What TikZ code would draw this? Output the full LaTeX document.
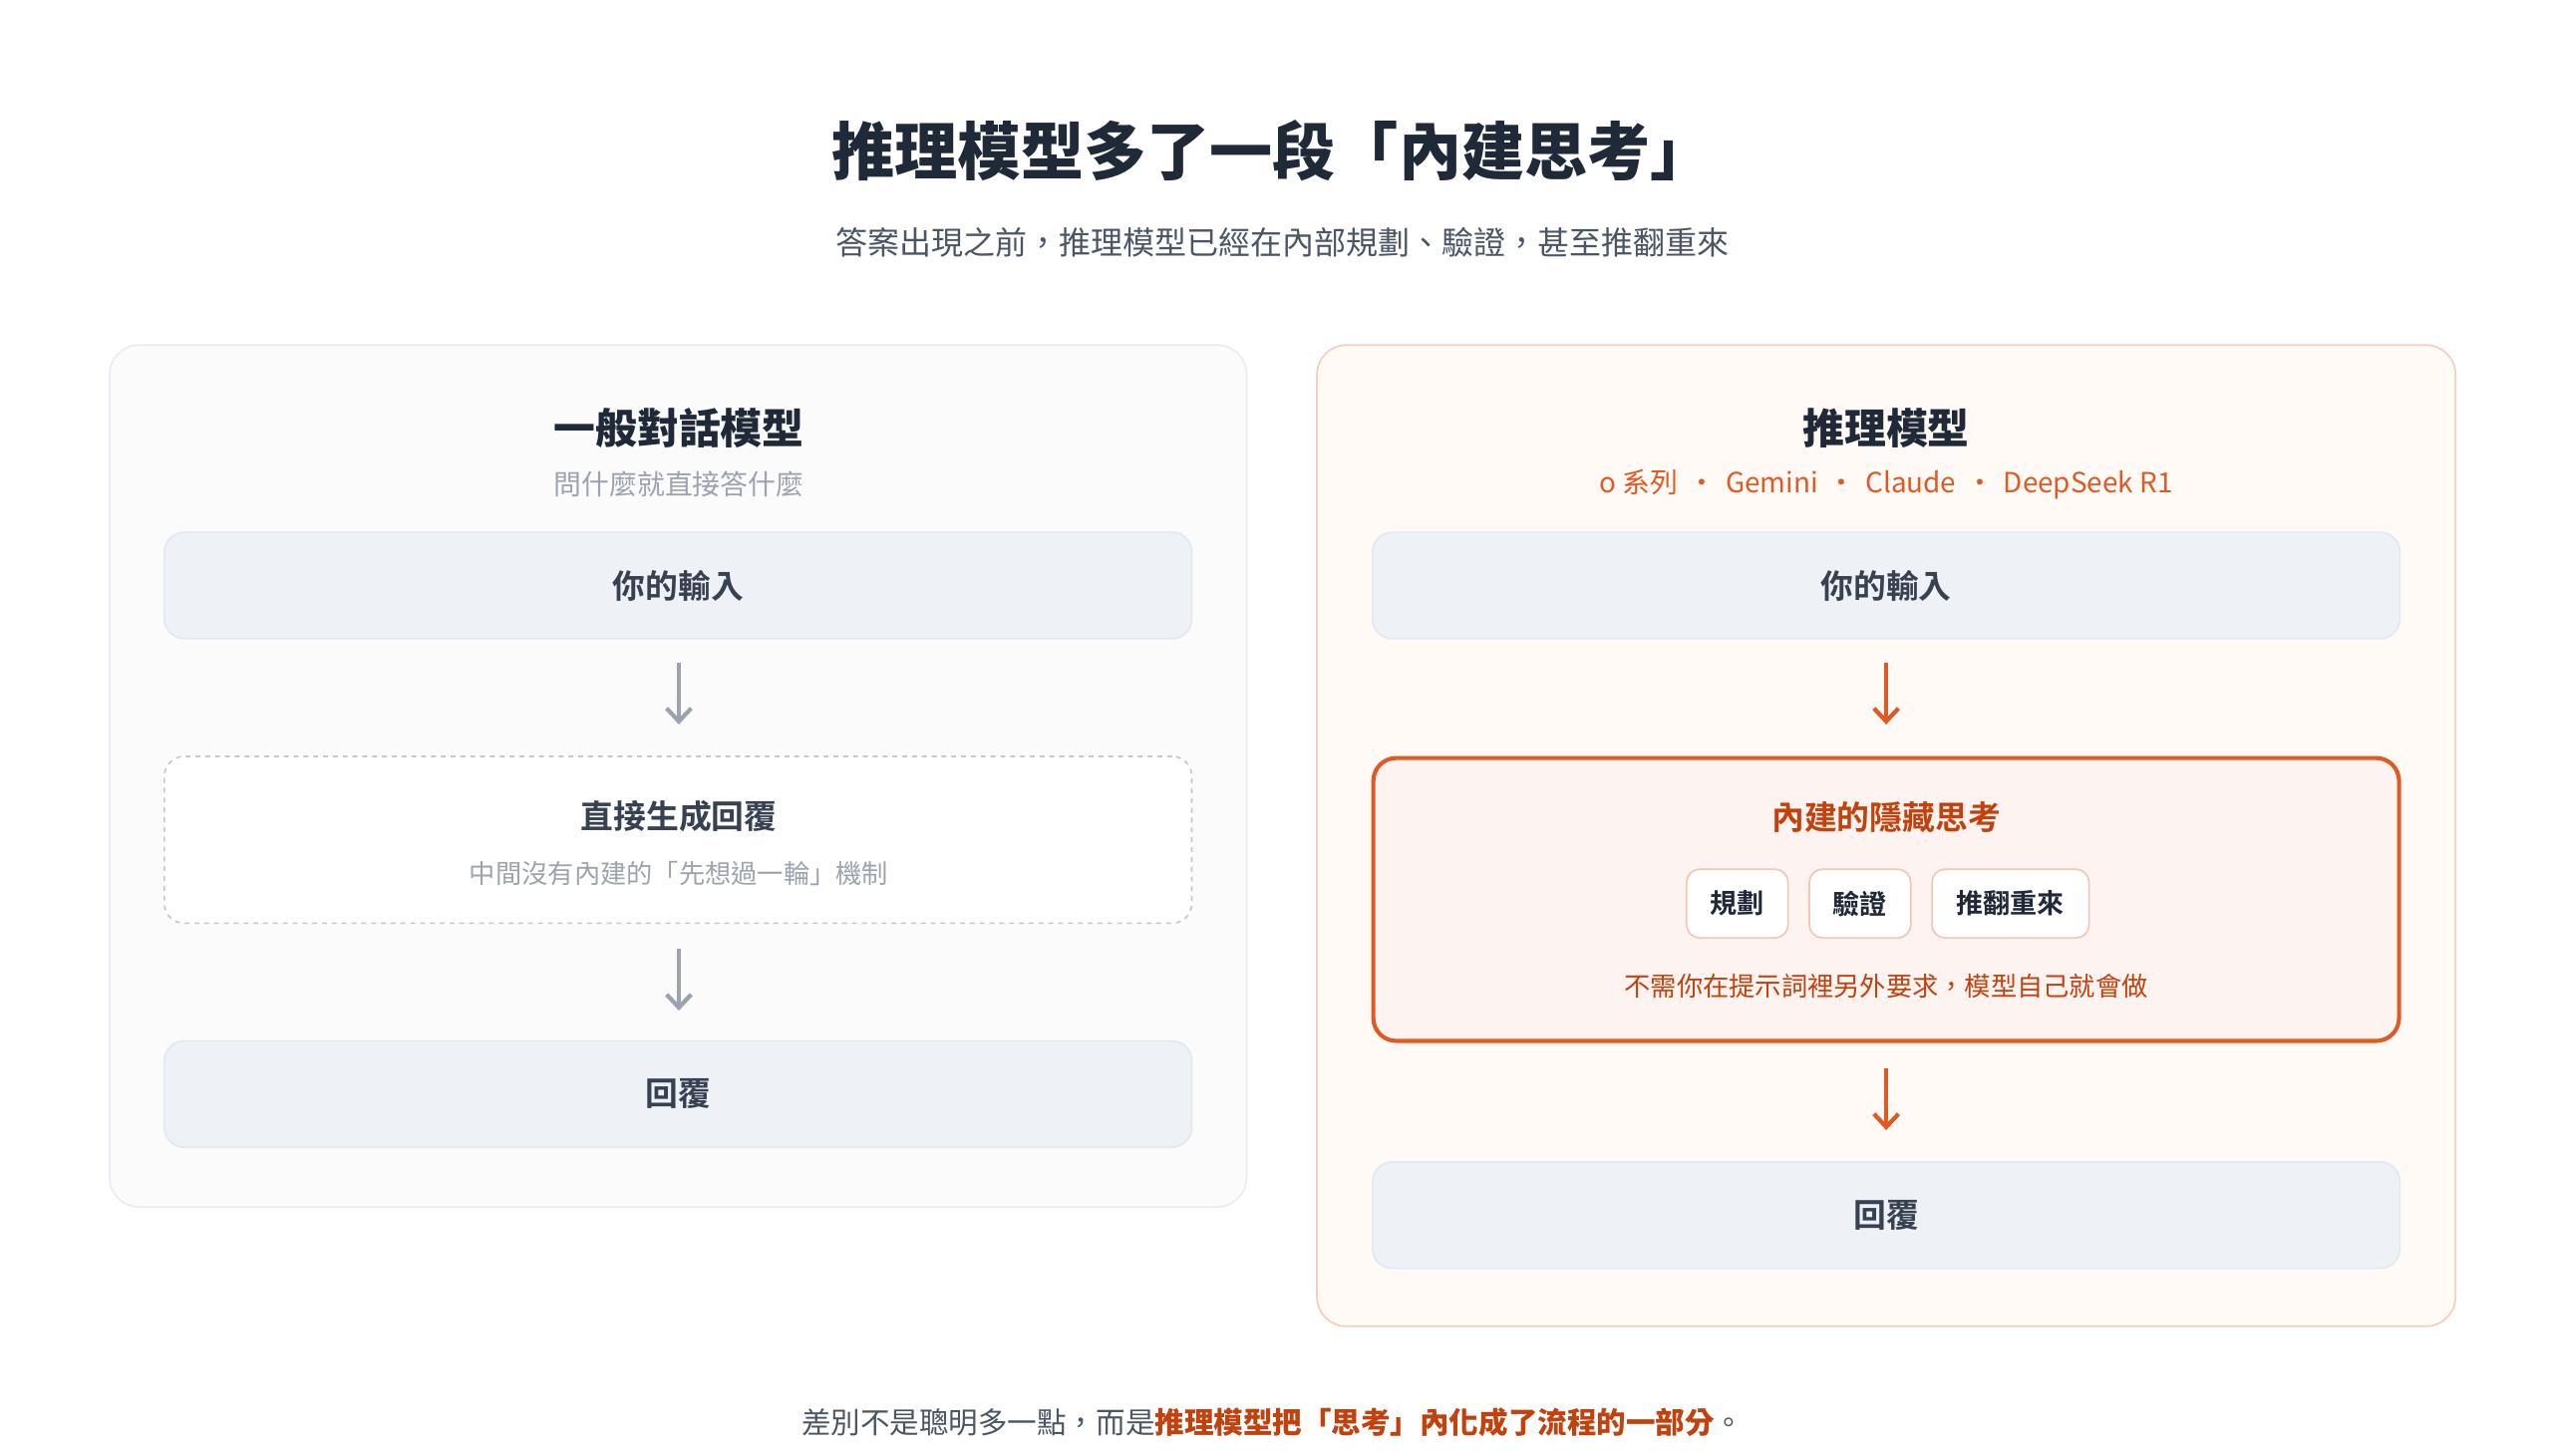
\documentclass[tikz,border=0pt]{standalone}
\usepackage{fontspec}
\setmainfont{Noto Sans CJK TC}[BoldFont={* Bold}]
\newfontfamily\heavy{Noto Sans CJK TC Black}
\usetikzlibrary{arrows.meta}
\definecolor{ink}{HTML}{1F2937}
\definecolor{txt}{HTML}{374151}
\definecolor{sub}{HTML}{4B5563}
\definecolor{mute}{HTML}{9CA3AF}
\definecolor{org}{HTML}{E05A24}
\definecolor{orgd}{HTML}{C2410C}
\definecolor{boxf}{HTML}{EEF2F6}
\definecolor{boxd}{HTML}{E2E8F0}
\tikzset{
  panel/.style={draw, line width=1pt, rounded corners=18pt},
  stepbox/.style={draw=boxd, fill=boxf, line width=1pt, rounded corners=12pt, minimum width=628pt, minimum height=65pt, font=\bfseries\fontsize{20}{24}\selectfont, text=txt},
  chip/.style={draw=org!35, fill=white, line width=1pt, rounded corners=8pt, minimum height=42pt, inner xsep=12pt, font=\bfseries\fontsize{16.5}{20}\selectfont, text=ink},
  garr/.style={draw=mute, line width=2.6pt, -{Straight Barb[length=8pt,width=15pt]}},
  oarr/.style={draw=org, line width=2.6pt, -{Straight Barb[length=8pt,width=15pt]}},
}
\begin{document}
\begin{tikzpicture}[x=1pt,y=-1pt]
\useasboundingbox[fill=white] (0,0) rectangle (1560,890);
\node (title) at (778,92) {\heavy\fontsize{38.5}{44}\selectfont\color{ink}推理模型多了一段「內建思考」};
\node (subt) at (784,148) {\fontsize{19.5}{23}\selectfont\color{sub}答案出現之前，推理模型已經在內部規劃、驗證，甚至推翻重來};
% left panel
\draw[panel, draw=boxd!80, fill=black!1.5] (67,211) rectangle (762,738);
\node (lt) at (415,262) {\heavy\fontsize{25.5}{30}\selectfont\color{ink}一般對話模型};
\node (ls) at (415,296) {\fontsize{17}{20}\selectfont\color{mute}問什麼就直接答什麼};
\node[stepbox] (l1) at (414.5,358) {你的輸入};
\node[draw=black!22, dashed, fill=white, line width=1pt, rounded corners=12pt, minimum width=628pt, minimum height=102pt] (l2) at (414.5,513.5) {};
\node (l2t) at (415,499) {\bfseries\fontsize{20}{24}\selectfont\color{txt}直接生成回覆};
\node (l2s) at (415,534) {\fontsize{16}{20}\selectfont\color{mute}中間沒有內建的「先想過一輪」機制};
\node[stepbox] (l3) at (414.5,669) {回覆};
\draw[garr] (415,405) -- (415,443);
\draw[garr] (415,580) -- (415,618);
% right panel
\draw[panel, draw=org!30, fill=orange!4] (805,211) rectangle (1501,811);
\node (rt) at (1153,262) {\heavy\fontsize{25.5}{30}\selectfont\color{ink}推理模型};
\node (rs) at (1153,296) {\fontsize{17}{20}\selectfont\color{org}o 系列\hspace{0.35em}•\hspace{0.35em}Gemini\hspace{0.35em}•\hspace{0.35em}Claude\hspace{0.35em}•\hspace{0.35em}DeepSeek R1};
\node[stepbox] (r1) at (1153,358) {你的輸入};
\node[draw=org, fill=org!7, line width=2.5pt, rounded corners=14pt, minimum width=627pt, minimum height=173pt] (r2) at (1153,550) {};
\node (r2t) at (1153,500) {\bfseries\fontsize{20}{24}\selectfont\color{orgd}內建的隱藏思考};
\node[chip, minimum width=62pt] (c1) at (1062,552.5) {規劃};
\node[chip, minimum width=62pt] (c2) at (1137,552.5) {驗證};
\node[chip, minimum width=96pt] (c3) at (1229,552.5) {推翻重來};
\node (r2s) at (1153,603) {\fontsize{16}{20}\selectfont\color{orgd}不需你在提示詞裡另外要求，模型自己就會做};
\node[stepbox] (r3) at (1153,743) {回覆};
\draw[oarr] (1153,405) -- (1153,443);
\draw[oarr] (1153,653) -- (1153,691);
% footer
\node (foot) at (778,870) {\fontsize{18}{22}\selectfont\color{sub}差別不是聰明多一點，而是{\heavy\color{orgd}推理模型把「思考」內化成了流程的一部分}。};
\end{tikzpicture}
\end{document}
